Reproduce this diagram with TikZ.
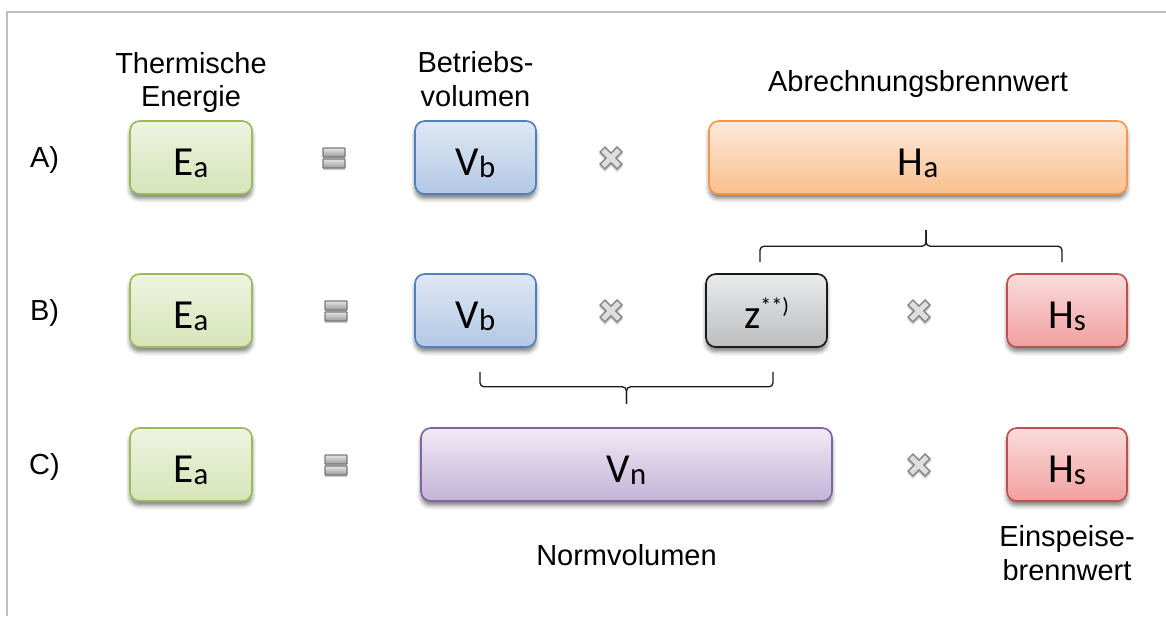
\documentclass[tikz,border=0pt]{standalone}
\usepackage{fontspec}
\setmainfont{Liberation Sans}
\newfontfamily\boxfont{Carlito}
\usepackage{tikz}
\usetikzlibrary{calc}
\usetikzlibrary{shadows,shadows.blur}
\definecolor{grnL}{HTML}{9BBB59}
\definecolor{grnT}{HTML}{EEF4E1}
\definecolor{grnB}{HTML}{D6E4B8}
\definecolor{bluL}{HTML}{4F81BD}
\definecolor{bluT}{HTML}{DFE8F4}
\definecolor{bluB}{HTML}{B3C8E5}
\definecolor{orgL}{HTML}{F79646}
\definecolor{orgT}{HTML}{FDEADB}
\definecolor{orgB}{HTML}{F9BF8E}
\definecolor{gryL}{HTML}{1A1A1A}
\definecolor{gryT}{HTML}{E9EAEB}
\definecolor{gryB}{HTML}{BDBEC0}
\definecolor{redL}{HTML}{C0504D}
\definecolor{redT}{HTML}{FADCDC}
\definecolor{redB}{HTML}{F2A09F}
\definecolor{purL}{HTML}{8064A2}
\definecolor{purT}{HTML}{F0EAF5}
\definecolor{purB}{HTML}{C4B3D8}
\definecolor{frm}{HTML}{BFBFBF}
\newcommand{\low}[1]{\raisebox{-1.2pt}{\fontsize{17.5}{17.5}\selectfont #1}}
\newcommand{\high}[1]{\raisebox{8.5pt}{\fontsize{12.5}{12.5}\selectfont #1}}
\tikzstyle{box}=[rounded corners=5.5pt,line width=.95pt,minimum height=1.46cm,inner sep=0pt,text height=20pt,text depth=0pt,font=\boxfont\fontsize{23.5}{26}\selectfont,blur shadow={shadow xshift=0pt,shadow yshift=-2.6pt,shadow blur radius=2.4pt,shadow opacity=50}]
\tikzstyle{ebox}=[box,draw=grnL,top color=grnT,bottom color=grnB]
\tikzstyle{vbox}=[box,draw=bluL,top color=bluT,bottom color=bluB]
\tikzstyle{hbox}=[box,draw=orgL,top color=orgT,bottom color=orgB]
\tikzstyle{zbox}=[box,draw=gryL,top color=gryT,bottom color=gryB]
\tikzstyle{sbox}=[box,draw=redL,top color=redT,bottom color=redB]
\tikzstyle{nbox}=[box,draw=purL,top color=purT,bottom color=purB]
\tikzstyle{lbl}=[align=center,inner sep=0pt,font=\fontsize{16.5}{19.3}\selectfont]
\tikzstyle{brace}=[line width=.75pt,draw=black!90,rounded corners=2.3pt]
\tikzstyle{opeq}=[minimum width=0.6cm,minimum height=0.56cm,inner sep=0pt,path picture={
	\begin{scope}[shift={(path picture bounding box.center)}]
		\fill[black,opacity=.2] (-11,-8) rectangle (11,1) (-11,3) rectangle (11,12);
		\draw[draw=black!52,top color=black!10,bottom color=black!40,rounded corners=.3pt,line width=.65pt] (-11,-10) rectangle (11,-1);
		\draw[draw=black!52,top color=black!10,bottom color=black!40,rounded corners=.3pt,line width=.65pt] (-11,1) rectangle (11,10);
	\end{scope}}]
\tikzstyle{opmul}=[minimum size=0.6cm,inner sep=0pt,path picture={
	\begin{scope}[shift={(path picture bounding box.center)}]
		\draw[black,opacity=.18,line width=4.8pt] (-9,-7) -- (9,11) (-9,11) -- (9,-7);
		\draw[black!48,line width=4.8pt] (-9,-9) -- (9,9) (-9,9) -- (9,-9);
		\draw[black!13,line width=3pt] (-7.9,-7.9) -- (7.9,7.9) (-7.9,7.9) -- (7.9,-7.9);
	\end{scope}}]

\begin{document}
\begin{tikzpicture}[x=0.02cm,y=-0.02cm]
	\useasboundingbox (0,0) rectangle (1166,616);
	\draw[frm,line width=1.2pt] (7,616) -- (7,12) -- (1166,12);
	\node[lbl] (tEa) at (191,82.5) {Thermische\\Energie};
	\node[lbl] (tVb) at (475.5,79.5) {Betriebs-\\volumen};
	\node[lbl] (tHa) at (918,83.5) {Abrechnungsbrennwert};
	\node[lbl,anchor=base] (lA) at (44.5,167.5) {A)};
	\node[lbl,anchor=base] (lB) at (44.5,320.5) {B)};
	\node[lbl,anchor=base] (lC) at (44.5,474.5) {C)};
	\node[ebox,minimum width=2.44cm] (ea1) at (191,157.5) {E\low{a}};
	\node[opeq] (eq1) at (334,158) {};
	\node[vbox,minimum width=2.42cm] (vb1) at (475.5,157.5) {V\low{b}};
	\node[opmul] (mul1) at (611,158) {};
	\node[hbox,minimum width=8.36cm] (ha) at (918,157.5) {H\low{a}};
	\node[ebox,minimum width=2.44cm] (ea2) at (191,310.5) {E\low{a}};
	\node[opeq] (eq2) at (336,311) {};
	\node[vbox,minimum width=2.42cm] (vb2) at (475.5,310.5) {V\low{b}};
	\node[opmul] (mul2) at (611,311) {};
	\node[zbox,minimum width=2.42cm] (z) at (766.5,310.5) {z\high{**)}};
	\node[opmul] (mul3) at (919,311) {};
	\node[sbox,minimum width=2.4cm] (hs2) at (1067,310.5) {H\low{s}};
	\node[ebox,minimum width=2.44cm] (ea3) at (191,464.5) {E\low{a}};
	\node[opeq] (eq3) at (336,465) {};
	\node[nbox,minimum width=8.22cm] (vn) at (626.5,464.5) {V\low{n}};
	\node[opmul] (mul4) at (919,465) {};
	\node[sbox,minimum width=2.4cm] (hs3) at (1067,464.5) {H\low{s}};
	\node[lbl] (tVn) at (626.5,555) {Normvolumen};
	\node[lbl] (tHs) at (1067,553.5) {Einspeise-\\brennwert};
	\coordinate (b1l) at ($(z.north)+(-6.5,-11)$);
	\coordinate (b1r) at ($(hs2.north)+(-5,-11)$);
	\coordinate (b1m) at ($(b1l)!0.55!(b1r)+(0,-16)$);
	\draw[brace] (b1l) |- (b1m) -- ++(0,-16);
	\draw[brace] (b1r) |- (b1m) -- ++(0,-16);
	\coordinate (b2l) at ($(vb2.south)+(4.5,24)$);
	\coordinate (b2r) at ($(z.south)+(6.5,24)$);
	\coordinate (b2m) at ($(b2l)!0.5!(b2r)+(0,15)$);
	\draw[brace] (b2l) |- (b2m) -- ++(0,17);
	\draw[brace] (b2r) |- (b2m) -- ++(0,17);
\end{tikzpicture}
\end{document}
